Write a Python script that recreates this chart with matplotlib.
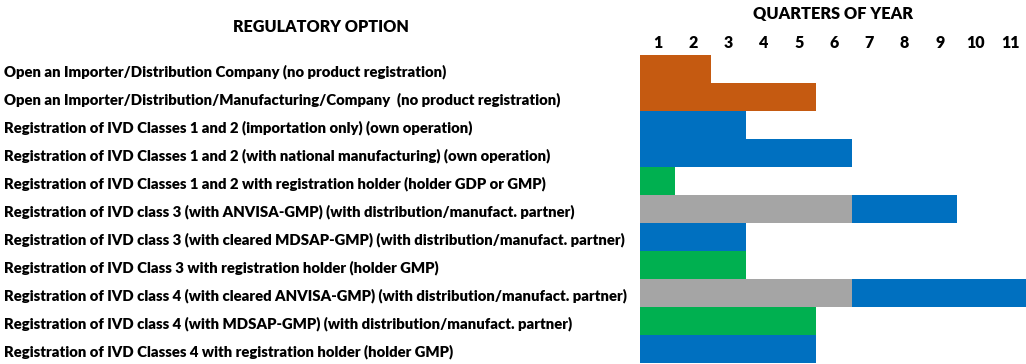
import matplotlib.pyplot as plt
import matplotlib.transforms as mtransforms

options = [
    "Open an Importer/Distribution Company (no product registration)",
    "Open an Importer/Distribution/Manufacturing/Company  (no product registration)",
    "Registration of IVD Classes 1 and 2 (importation only) (own operation)",
    "Registration of IVD Classes 1 and 2 (with national manufacturing) (own operation)",
    "Registration of IVD Classes 1 and 2 with registration holder (holder GDP or GMP)",
    "Registration of IVD class 3 (with ANVISA-GMP) (with distribution/manufact. partner)",
    "Registration of IVD class 3 (with cleared MDSAP-GMP) (with distribution/manufact. partner)",
    "Registration of IVD Class 3 with registration holder (holder GMP)",
    "Registration of IVD class 4 (with cleared ANVISA-GMP) (with distribution/manufact. partner)",
    "Registration of IVD class 4 (with MDSAP-GMP) (with distribution/manufact. partner)",
    "Registration of IVD Classes 4 with registration holder (holder GMP)",
]

# (start quarter, duration, colour key) per row
segments = [
    [(0, 2, "orange")],
    [(0, 5, "orange")],
    [(0, 3, "blue")],
    [(0, 6, "blue")],
    [(0, 1, "green")],
    [(0, 6, "gray"), (6, 3, "blue")],
    [(0, 3, "blue")],
    [(0, 3, "green")],
    [(0, 6, "gray"), (6, 5, "blue")],
    [(0, 5, "green")],
    [(0, 5, "blue")],
]

quarters = list(range(1, 12))

colors = {
    "orange": "#C55A11",
    "blue": "#0070C0",
    "green": "#00B050",
    "gray": "#A5A5A5",
}

plt.rcParams["font.family"] = ["Lato", "DejaVu Sans"]

W, H = 1026, 364
fig = plt.figure(figsize=(W / 100, H / 100), dpi=100)
# bars area: x 640..1028 px, y 55..363 px
ax = fig.add_axes([640 / W, 1 - 363 / H, 388 / W, 308 / H])

for row, segs in enumerate(segments):
    for start, dur, key in segs:
        ax.barh(row, dur, left=start, height=1.0, color=colors[key], linewidth=0)

ax.set_xlim(0, 11)
ax.set_ylim(len(options) - 0.5, -0.5)
ax.set_yticks([])
ax.set_xticks([q - 0.5 for q in quarters])
ax.set_xticklabels([str(q) for q in quarters], fontsize=11.5, fontweight="heavy")
ax.xaxis.tick_top()
ax.tick_params(axis="x", length=0, pad=3)
for s in ax.spines.values():
    s.set_visible(False)

trans = mtransforms.blended_transform_factory(fig.transFigure, ax.transData)
trans = trans + mtransforms.ScaledTranslation(0, -2.5 / 100, fig.dpi_scale_trans)
for row, label in enumerate(options):
    ax.text(4 / W, row, label, transform=trans, ha="left", va="center",
            fontsize=10.75, fontweight="heavy", clip_on=False)

fig.text(321 / W, 1 - 27 / H, "REGULATORY OPTION", ha="center", va="center",
         fontsize=11.6, fontweight="heavy")
fig.text(833 / W, 1 - 14 / H, "QUARTERS OF YEAR", ha="center", va="center",
         fontsize=11.8, fontweight="heavy")

fig.savefig("out.png", dpi=100)
